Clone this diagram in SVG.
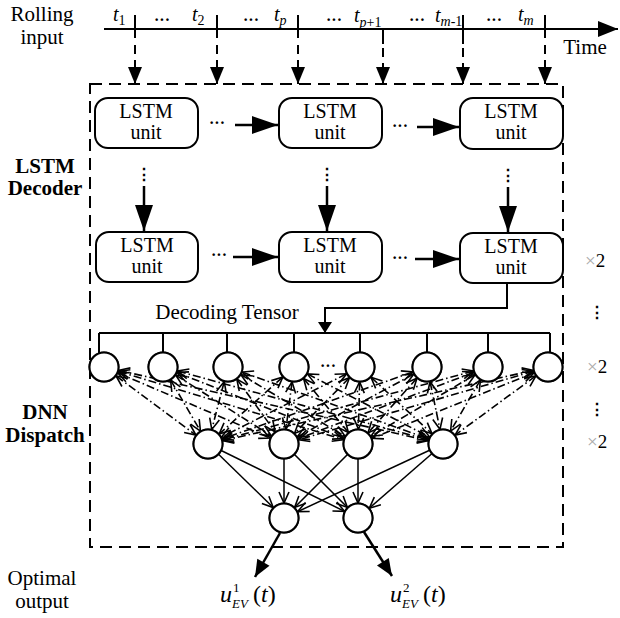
<svg xmlns="http://www.w3.org/2000/svg" width="620" height="618" viewBox="0 0 620 618">
<style>
text{font-family:"Liberation Serif","Times New Roman",serif;fill:#000}
.lbl{font-size:21px;text-anchor:middle}
.bold{font-size:21px;font-weight:bold;text-anchor:middle}
.unit rect{fill:#fff;stroke:#000;stroke-width:2}
.unit text{font-size:20px;text-anchor:middle}
.neuron{fill:#fff;stroke:#000;stroke-width:2}
.thick{stroke:#000;stroke-width:2.5;fill:none}
.solid{stroke:#000;stroke-width:2;fill:none}
.dash{stroke:#000;stroke-width:2;stroke-dasharray:9 6;fill:none}
.box{stroke:#000;stroke-width:2;stroke-dasharray:12 7;fill:none}
.dd{stroke:#000;stroke-width:1.6;stroke-dasharray:8 3 1.5 3;fill:none}
.fc{stroke:#000;stroke-width:1.5;fill:none}
.dots{font-size:16px;font-weight:bold;text-anchor:middle}
.vd{font-family:"DejaVu Serif",serif;font-size:16px;font-weight:bold;text-anchor:middle}
.it{font-style:italic}
.x2{font-size:19px}
</style>
<defs>
<marker id="big" markerUnits="userSpaceOnUse" orient="auto" refX="0" refY="0" markerWidth="1" markerHeight="1" overflow="visible"><path d="M0,0 L-26,-9 L-26,9 Z" fill="#000"/></marker>
<marker id="mid" markerUnits="userSpaceOnUse" orient="auto" refX="0" refY="0" markerWidth="1" markerHeight="1" overflow="visible"><path d="M0,0 L-17,-7 L-17,7 Z" fill="#000"/></marker>
<marker id="sm" markerUnits="userSpaceOnUse" orient="auto" refX="0" refY="0" markerWidth="1" markerHeight="1" overflow="visible"><path d="M0,0 L-11,-7 L-11,7 Z" fill="#000"/></marker>
<marker id="tm" markerUnits="userSpaceOnUse" orient="auto" refX="0" refY="0" markerWidth="1" markerHeight="1" overflow="visible"><path d="M0,0 L-20,-8 L-20,8 Z" fill="#000"/></marker>
<marker id="va" markerUnits="userSpaceOnUse" orient="auto-start-reverse" refX="0" refY="0" markerWidth="1" markerHeight="1" overflow="visible"><path d="M-26,-5 L-15,0 L-26,5" fill="none" stroke="#000" stroke-width="1.6" stroke-dasharray="none"/></marker>
</defs>

<!-- labels -->
<g id="labels">
<text class="lbl" x="42" y="21">Rolling</text>
<text class="lbl" x="42" y="44">input</text>
<text class="lbl" x="585" y="54">Time</text>
<text class="bold" x="45" y="173">LSTM</text>
<text class="bold" x="45" y="195">Decoder</text>
<text class="bold" x="45" y="419">DNN</text>
<text class="bold" x="45" y="442">Dispatch</text>
<text class="lbl" x="42" y="585">Optimal</text>
<text class="lbl" x="42" y="608">output</text>
<text class="lbl" x="227" y="319">Decoding Tensor</text>
</g>

<!-- time axis -->
<g id="timeline">
<line class="solid" x1="104" y1="29" x2="618" y2="29" marker-end="url(#tm)"/>
<line class="solid" x1="135" y1="15" x2="135" y2="38"/>
<line class="solid" x1="217" y1="15" x2="217" y2="38"/>
<line class="solid" x1="298" y1="15" x2="298" y2="38"/>
<line class="solid" x1="383" y1="29" x2="383" y2="44"/>
<line class="solid" x1="463" y1="15" x2="463" y2="44"/>
<line class="solid" x1="545" y1="15" x2="545" y2="38"/>
<text class="it" x="113" y="21" font-size="20">t<tspan font-size="14" font-style="normal" dy="4">1</tspan></text>
<text class="it" x="192" y="21" font-size="20">t<tspan font-size="14" font-style="normal" dy="4">2</tspan></text>
<text class="it" x="274" y="21" font-size="20">t<tspan font-size="14" dy="4">p</tspan></text>
<text class="it" x="354" y="22" font-size="20">t<tspan font-size="14" dy="5">p</tspan><tspan font-size="14" font-style="normal">+1</tspan></text>
<text class="it" x="435" y="22" font-size="20">t<tspan font-size="14" dy="4">m</tspan><tspan font-size="14" font-style="normal">-1</tspan></text>
<text class="it" x="518" y="21" font-size="20">t<tspan font-size="14" dy="4">m</tspan></text>
<text class="dots" x="162" y="25">···</text>
<text class="dots" x="251" y="25">···</text>
<text class="dots" x="334" y="25">···</text>
<text class="dots" x="417" y="25">···</text>
<text class="dots" x="494" y="25">···</text>
</g>

<!-- dashed frame -->
<rect id="frame" class="box" x="90" y="84" width="473" height="463"/>

<!-- LSTM units -->
<g id="lstm11" class="unit"><rect x="95" y="98" width="103" height="50" rx="13"/><text x="146" y="118">LSTM</text><text x="146" y="139">unit</text></g>
<g id="lstm12" class="unit"><rect x="279" y="98" width="103" height="50" rx="13"/><text x="330" y="118">LSTM</text><text x="330" y="139">unit</text></g>
<g id="lstm13" class="unit"><rect x="460" y="98" width="103" height="51" rx="13"/><text x="511" y="118">LSTM</text><text x="511" y="139">unit</text></g>
<g id="lstm21" class="unit"><rect x="96" y="232" width="102" height="50" rx="13"/><text x="147" y="252">LSTM</text><text x="147" y="273">unit</text></g>
<g id="lstm22" class="unit"><rect x="279" y="232" width="103" height="50" rx="13"/><text x="330" y="252">LSTM</text><text x="330" y="273">unit</text></g>
<g id="lstm23" class="unit"><rect x="460" y="233" width="103" height="50" rx="13"/><text x="511" y="253">LSTM</text><text x="511" y="274">unit</text></g>

<!-- DNN neurons -->
<g id="in1"><circle class="neuron" cx="104" cy="367" r="14.5"/></g>
<g id="in2"><circle class="neuron" cx="163" cy="367" r="14.5"/></g>
<g id="in3"><circle class="neuron" cx="228" cy="367" r="14.5"/></g>
<g id="in4"><circle class="neuron" cx="294" cy="367" r="14.5"/></g>
<g id="in5"><circle class="neuron" cx="360" cy="367" r="14.5"/></g>
<g id="in6"><circle class="neuron" cx="427" cy="367" r="14.5"/></g>
<g id="in7"><circle class="neuron" cx="488" cy="367" r="14.5"/></g>
<g id="in8"><circle class="neuron" cx="548" cy="367" r="14.5"/></g>
<g id="h1"><circle class="neuron" cx="208" cy="444" r="14.5"/></g>
<g id="h2"><circle class="neuron" cx="284" cy="444" r="14.5"/></g>
<g id="h3"><circle class="neuron" cx="358" cy="444" r="14.5"/></g>
<g id="h4"><circle class="neuron" cx="443" cy="444" r="14.5"/></g>
<g id="o1"><circle class="neuron" cx="284" cy="518" r="14.5"/></g>
<g id="o2"><circle class="neuron" cx="358" cy="518" r="14.5"/></g>

<!-- connectors -->
<g id="connectors">
<line class="dash" x1="135" y1="45" x2="135" y2="84" marker-end="url(#mid)"/>
<line class="dash" x1="217" y1="45" x2="217" y2="84" marker-end="url(#mid)"/>
<line class="dash" x1="298" y1="45" x2="298" y2="84" marker-end="url(#mid)"/>
<line class="dash" x1="383" y1="48" x2="383" y2="84" marker-end="url(#mid)"/>
<line class="dash" x1="463" y1="48" x2="463" y2="84" marker-end="url(#mid)"/>
<line class="dash" x1="545" y1="45" x2="545" y2="84" marker-end="url(#mid)"/>

<text class="dots" x="217" y="128">···</text>
<line class="thick" x1="235" y1="125" x2="278" y2="125" marker-end="url(#big)"/>
<text class="dots" x="400" y="131">···</text>
<line class="thick" x1="417" y1="127" x2="459" y2="127" marker-end="url(#big)"/>
<text class="dots" x="219" y="260">···</text>
<line class="thick" x1="233" y1="257" x2="278" y2="257" marker-end="url(#big)"/>
<text class="dots" x="400" y="263">···</text>
<line class="thick" x1="415" y1="259" x2="459" y2="259" marker-end="url(#big)"/>

<text class="vd" x="144" y="180">⋮</text>
<line class="thick" x1="144" y1="186" x2="144" y2="231" marker-end="url(#big)"/>
<text class="vd" x="327" y="180">⋮</text>
<line class="thick" x1="327" y1="186" x2="327" y2="231" marker-end="url(#big)"/>
<text class="vd" x="508" y="181">⋮</text>
<line class="thick" x1="508" y1="187" x2="508" y2="232" marker-end="url(#big)"/>

<polyline class="solid" points="507,283 507,308 325,308 325,333" marker-end="url(#sm)"/>
<line class="solid" x1="99" y1="333" x2="550" y2="333"/>
<line class="solid" x1="99" y1="333" x2="99" y2="355"/>
<line class="solid" x1="163" y1="333" x2="163" y2="353"/>
<line class="solid" x1="227" y1="333" x2="227" y2="353"/>
<line class="solid" x1="294" y1="333" x2="294" y2="353"/>
<line class="solid" x1="360" y1="333" x2="360" y2="353"/>
<line class="solid" x1="427" y1="333" x2="427" y2="353"/>
<line class="solid" x1="488" y1="333" x2="488" y2="353"/>
<line class="solid" x1="550" y1="333" x2="550" y2="354"/>
<text class="dots" x="328" y="371">···</text>

<g>
<line class="dd" x1="104" y1="367" x2="208" y2="444" marker-start="url(#va)" marker-end="url(#va)"/>
<line class="dd" x1="104" y1="367" x2="284" y2="444" marker-start="url(#va)" marker-end="url(#va)"/>
<line class="dd" x1="104" y1="367" x2="358" y2="444" marker-start="url(#va)" marker-end="url(#va)"/>
<line class="dd" x1="104" y1="367" x2="443" y2="444" marker-start="url(#va)" marker-end="url(#va)"/>
<line class="dd" x1="163" y1="367" x2="208" y2="444" marker-start="url(#va)" marker-end="url(#va)"/>
<line class="dd" x1="163" y1="367" x2="284" y2="444" marker-start="url(#va)" marker-end="url(#va)"/>
<line class="dd" x1="163" y1="367" x2="358" y2="444" marker-start="url(#va)" marker-end="url(#va)"/>
<line class="dd" x1="163" y1="367" x2="443" y2="444" marker-start="url(#va)" marker-end="url(#va)"/>
<line class="dd" x1="228" y1="367" x2="208" y2="444" marker-start="url(#va)" marker-end="url(#va)"/>
<line class="dd" x1="228" y1="367" x2="284" y2="444" marker-start="url(#va)" marker-end="url(#va)"/>
<line class="dd" x1="228" y1="367" x2="358" y2="444" marker-start="url(#va)" marker-end="url(#va)"/>
<line class="dd" x1="228" y1="367" x2="443" y2="444" marker-start="url(#va)" marker-end="url(#va)"/>
<line class="dd" x1="294" y1="367" x2="208" y2="444" marker-start="url(#va)" marker-end="url(#va)"/>
<line class="dd" x1="294" y1="367" x2="284" y2="444" marker-start="url(#va)" marker-end="url(#va)"/>
<line class="dd" x1="294" y1="367" x2="358" y2="444" marker-start="url(#va)" marker-end="url(#va)"/>
<line class="dd" x1="294" y1="367" x2="443" y2="444" marker-start="url(#va)" marker-end="url(#va)"/>
<line class="dd" x1="360" y1="367" x2="208" y2="444" marker-start="url(#va)" marker-end="url(#va)"/>
<line class="dd" x1="360" y1="367" x2="284" y2="444" marker-start="url(#va)" marker-end="url(#va)"/>
<line class="dd" x1="360" y1="367" x2="358" y2="444" marker-start="url(#va)" marker-end="url(#va)"/>
<line class="dd" x1="360" y1="367" x2="443" y2="444" marker-start="url(#va)" marker-end="url(#va)"/>
<line class="dd" x1="427" y1="367" x2="208" y2="444" marker-start="url(#va)" marker-end="url(#va)"/>
<line class="dd" x1="427" y1="367" x2="284" y2="444" marker-start="url(#va)" marker-end="url(#va)"/>
<line class="dd" x1="427" y1="367" x2="358" y2="444" marker-start="url(#va)" marker-end="url(#va)"/>
<line class="dd" x1="427" y1="367" x2="443" y2="444" marker-start="url(#va)" marker-end="url(#va)"/>
<line class="dd" x1="488" y1="367" x2="208" y2="444" marker-start="url(#va)" marker-end="url(#va)"/>
<line class="dd" x1="488" y1="367" x2="284" y2="444" marker-start="url(#va)" marker-end="url(#va)"/>
<line class="dd" x1="488" y1="367" x2="358" y2="444" marker-start="url(#va)" marker-end="url(#va)"/>
<line class="dd" x1="488" y1="367" x2="443" y2="444" marker-start="url(#va)" marker-end="url(#va)"/>
<line class="dd" x1="548" y1="367" x2="208" y2="444" marker-start="url(#va)" marker-end="url(#va)"/>
<line class="dd" x1="548" y1="367" x2="284" y2="444" marker-start="url(#va)" marker-end="url(#va)"/>
<line class="dd" x1="548" y1="367" x2="358" y2="444" marker-start="url(#va)" marker-end="url(#va)"/>
<line class="dd" x1="548" y1="367" x2="443" y2="444" marker-start="url(#va)" marker-end="url(#va)"/>
</g>

<line class="fc" x1="208" y1="444" x2="284" y2="518" marker-end="url(#va)"/>
<line class="fc" x1="208" y1="444" x2="358" y2="518" marker-end="url(#va)"/>
<line class="fc" x1="284" y1="444" x2="284" y2="518" marker-end="url(#va)"/>
<line class="fc" x1="284" y1="444" x2="358" y2="518" marker-end="url(#va)"/>
<line class="fc" x1="358" y1="444" x2="284" y2="518" marker-end="url(#va)"/>
<line class="fc" x1="358" y1="444" x2="358" y2="518" marker-end="url(#va)"/>
<line class="fc" x1="443" y1="444" x2="284" y2="518" marker-end="url(#va)"/>
<line class="fc" x1="443" y1="444" x2="358" y2="518" marker-end="url(#va)"/>

<line class="thick" x1="280" y1="533" x2="255" y2="577" marker-end="url(#mid)"/>
<line class="thick" x1="364" y1="532" x2="392" y2="576" marker-end="url(#mid)"/>
</g>

<!-- redraw neurons above connector lines -->
<g id="neuron-tops">
<use href="#in1"/><use href="#in2"/><use href="#in3"/><use href="#in4"/><use href="#in5"/><use href="#in6"/><use href="#in7"/><use href="#in8"/>
<use href="#h1"/><use href="#h2"/><use href="#h3"/><use href="#h4"/><use href="#o1"/><use href="#o2"/>
</g>

<!-- repeat marks -->
<g id="repeats">
<text class="x2" x="585" y="267"><tspan fill="#aaa">×</tspan>2</text>
<text class="vd" x="597" y="318">⋮</text>
<text class="x2" x="587" y="373"><tspan fill="#aaa">×</tspan>2</text>
<text class="vd" x="597" y="415">⋮</text>
<text class="x2" x="587" y="448"><tspan fill="#aaa">×</tspan>2</text>
</g>

<!-- outputs -->
<g id="out-labels">
<text x="220" y="602" font-size="24" class="it">u</text>
<text x="233" y="592" font-size="13">1</text>
<text x="232" y="608" font-size="13" class="it">EV</text>
<text x="253" y="602" font-size="24">(<tspan class="it">t</tspan>)</text>
<text x="390" y="602" font-size="24" class="it">u</text>
<text x="403" y="592" font-size="13">2</text>
<text x="402" y="608" font-size="13" class="it">EV</text>
<text x="423" y="602" font-size="24">(<tspan class="it">t</tspan>)</text>
</g>
</svg>
